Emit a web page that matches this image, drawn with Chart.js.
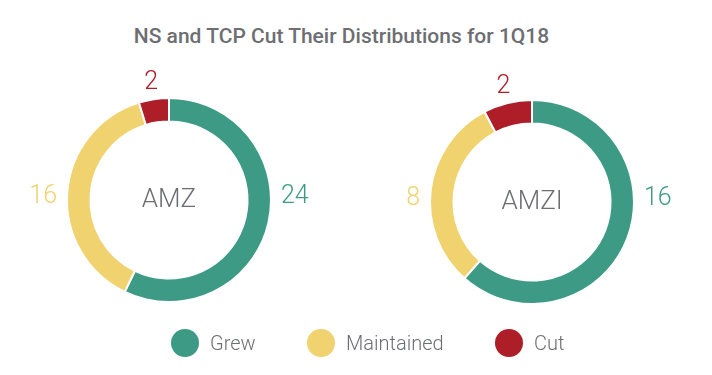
<!DOCTYPE html>
<html>
<head>
<meta charset="utf-8">
<script src="https://cdn.jsdelivr.net/npm/chart.js@4/dist/chart.umd.min.js"></script>
<style>
  body { margin: 0; width: 712px; height: 375px; background: #fff; position: relative; overflow: hidden; font-family: Roboto, "Noto Sans", sans-serif; }
  #title { position: absolute; left: 0; width: 683px; top: 24px; text-align: center; font-size: 21px; font-weight: 500; color: #6d6e71; }
  canvas { position: absolute; }
  #legend { position: absolute; top: 329px; left: 0; width: 712px; height: 28px; }
  .item { position: absolute; top: 0; height: 28px; line-height: 28px; font-size: 20px; font-weight: 300; color: #6d6e71; }
  .dot { position: absolute; top: 0; width: 28px; height: 28px; border-radius: 50%; }
</style>
</head>
<body>
<div id="title">NS and TCP Cut Their Distributions for 1Q18</div>
<canvas id="amz" width="340" height="290" style="left:-1px;top:55px"></canvas>
<canvas id="amzi" width="340" height="290" style="left:362px;top:57px"></canvas>
<div id="legend"></div>
<script>
// categories and values
var categories = ["Grew", "Maintained", "Cut"];
var colors = ["#3d9b85", "#f0d26e", "#ae1e28"];
var amzValues = [24, 16, 2];
var amziValues = [16, 8, 2];
var funds = ["AMZ", "AMZI"];

// center text + value labels round the ring
var ringLabels = {
  id: "ringLabels",
  afterDatasetsDraw: function(chart) {
    var ctx = chart.ctx;
    var meta = chart.getDatasetMeta(0);
    var vals = chart.data.datasets[0].data;
    var cx = meta.data[0].x, cy = meta.data[0].y;
    ctx.save();
    ctx.font = "300 26px Roboto, sans-serif";
    ctx.fillStyle = "#6d6e71";
    ctx.textAlign = "center";
    ctx.textBaseline = "middle";
    ctx.fillText(chart.options.plugins.centerText, cx, cy);

    ctx.font = "300 25px Roboto, sans-serif";
    meta.data.forEach(function(arc, i) {
      var p = arc.getProps(["startAngle", "endAngle", "outerRadius"], true);
      var mid = (p.startAngle + p.endAngle) / 2;
      var dx = Math.cos(mid), dy = Math.sin(mid);
      ctx.fillStyle = colors[i];
      if (Math.abs(dx) > Math.abs(dy)) {
        // side labels sit level with the centre
        ctx.textAlign = dx > 0 ? "left" : "right";
        ctx.fillText(vals[i], cx + (dx > 0 ? 1 : -1) * (p.outerRadius + 10), cy - 3);
      } else {
        ctx.textAlign = "center";
        var r = p.outerRadius + 17;
        ctx.fillText(vals[i], cx + dx * r, cy + dy * r);
      }
    });
    ctx.restore();
  }
};

function makeDonut(id, values, name) {
  return new Chart(document.getElementById(id), {
    type: "doughnut",
    data: {
      labels: categories,
      datasets: [{
        data: values,
        backgroundColor: colors,
        borderColor: "#ffffff",
        borderWidth: 2
      }]
    },
    options: {
      responsive: false,
      animation: false,
      devicePixelRatio: 1,
      cutout: "77%",
      layout: { padding: { top: 42, bottom: 42 } },
      plugins: {
        legend: { display: false },
        tooltip: { enabled: false },
        centerText: name
      }
    },
    plugins: [ringLabels]
  });
}

makeDonut("amz", amzValues, funds[0]);
makeDonut("amzi", amziValues, funds[1]);

// legend
var legendX = [171, 307, 495];
var legend = document.getElementById("legend");
categories.forEach(function(c, i) {
  var dot = document.createElement("div");
  dot.className = "dot";
  dot.style.left = legendX[i] + "px";
  dot.style.background = colors[i];
  legend.appendChild(dot);
  var t = document.createElement("div");
  t.className = "item";
  t.style.left = (legendX[i] + 39) + "px";
  t.textContent = c;
  legend.appendChild(t);
});
</script>
</body>
</html>
